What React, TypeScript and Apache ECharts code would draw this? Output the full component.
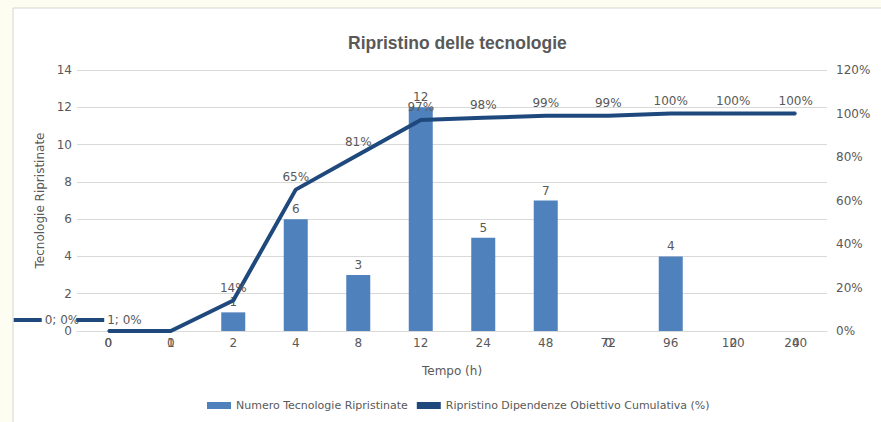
import React, { useEffect, useRef } from "react";
import * as echarts from "echarts";

const categories = ["0", "1", "2", "4", "8", "12", "24", "48", "72", "96", "120", "240"];
const barValues = [0, 0, 1, 6, 3, 12, 5, 7, 0, 4, 0, 0];
const lineValues = [0, 0, 14, 65, 81, 97, 98, 99, 99, 100, 100, 100];
const leftTicks = { min: 0, max: 14, interval: 2 };
const rightTicks = { min: 0, max: 120, interval: 20 };

const BAR = "#4f81bd";
const LINE = "#1f497d";
const TXT = "#595959";
const FONT = "DejaVu Sans";

export default function App() {
  const ref = useRef<HTMLDivElement>(null);
  useEffect(() => {
    document.body.style.margin = "0";
    const chart = echarts.init(ref.current!, null, { renderer: "svg" });
    chart.setOption({
      animation: false,
      backgroundColor: "#fdfdf2",
      textStyle: { fontFamily: FONT, color: TXT },
      graphic: [
        {
          type: "rect",
          shape: { x: 13, y: 8, width: 880, height: 430 },
          style: { fill: "#ffffff", stroke: "#d6d6d0", lineWidth: 1 },
          z: -10,
        },
      ],
      title: {
        text: "Ripristino delle tecnologie",
        left: 343,
        top: 29,
        textStyle: {
          fontFamily: "Liberation Sans",
          fontWeight: "bold",
          fontSize: 17.5,
          color: TXT,
        },
      },
      legend: {
        bottom: 6,
        left: 202,
        itemWidth: 24,
        itemHeight: 7,
        itemGap: 9,
        textStyle: { fontFamily: FONT, fontSize: 11, color: TXT },
        data: [
          { name: "Numero Tecnologie Ripristinate", icon: "rect" },
          { name: "Ripristino Dipendenze Obiettivo Cumulativa (%)", icon: "rect", itemStyle: { color: LINE } },
        ],
      },
      grid: { left: 77, right: 54, top: 70, bottom: 91 },
      xAxis: {
        type: "category",
        data: categories,
        name: "Tempo (h)",
        nameLocation: "middle",
        nameGap: 34,
        nameTextStyle: { fontFamily: FONT, fontSize: 12, color: TXT },
        axisLine: { lineStyle: { color: "#d9d9d9" } },
        axisTick: { show: false },
        axisLabel: { fontFamily: FONT, fontSize: 12, color: TXT, margin: 6, interval: 0 },
      },
      yAxis: [
        {
          type: "value",
          ...leftTicks,
          name: "Tecnologie Ripristinate",
          nameLocation: "middle",
          nameGap: 30,
          nameTextStyle: { fontFamily: FONT, fontSize: 12, color: TXT },
          axisLine: { show: false },
          axisTick: { show: false },
          axisLabel: { fontFamily: FONT, fontSize: 12, color: TXT, margin: 5 },
          splitLine: { lineStyle: { color: "#d9d9d9" } },
        },
        {
          type: "value",
          ...rightTicks,
          axisLine: { show: false },
          axisTick: { show: false },
          axisLabel: { fontFamily: FONT, fontSize: 12, color: TXT, margin: 9, formatter: "{value}%" },
          splitLine: { show: false },
        },
      ],
      series: [
        {
          name: "Numero Tecnologie Ripristinate",
          type: "bar",
          barWidth: 24,
          itemStyle: { color: BAR },
          label: { show: true, position: "top", distance: 4, fontFamily: FONT, fontSize: 12, color: TXT },
          data: barValues.map((v) =>
            v === 0
              ? { value: v, label: { position: "bottom", distance: 6, color: TXT } }
              : { value: v }
          ),
        },
        {
          name: "Ripristino Dipendenze Obiettivo Cumulativa (%)",
          type: "line",
          yAxisIndex: 1,
          symbol: "circle",
          symbolSize: 2,
          showSymbol: true,
          itemStyle: { color: LINE },
          lineStyle: { color: LINE, width: 4 },
          z: 5,
          label: {
            show: true,
            position: "top",
            distance: 6,
            fontFamily: FONT,
            fontSize: 12,
            color: TXT,
            formatter: "{c}%",
          },
          data: lineValues.map((v, i) =>
            i < 2
              ? {
                  value: v,
                  label: {
                    position: "left",
                    distance: 28,
                    offset: [0, -11],
                    formatter: `{k|}{t|${categories[i]}; ${v}%}`,
                    rich: {
                      k: { width: 28, height: 4, backgroundColor: LINE },
                      t: { fontFamily: FONT, fontSize: 12, color: TXT, padding: [0, 0, 0, 3] },
                    },
                  },
                }
              : { value: v }
          ),
        },
      ],
    });
    return () => chart.dispose();
  }, []);
  return <div ref={ref} style={{ width: 881, height: 422 }} />;
}
